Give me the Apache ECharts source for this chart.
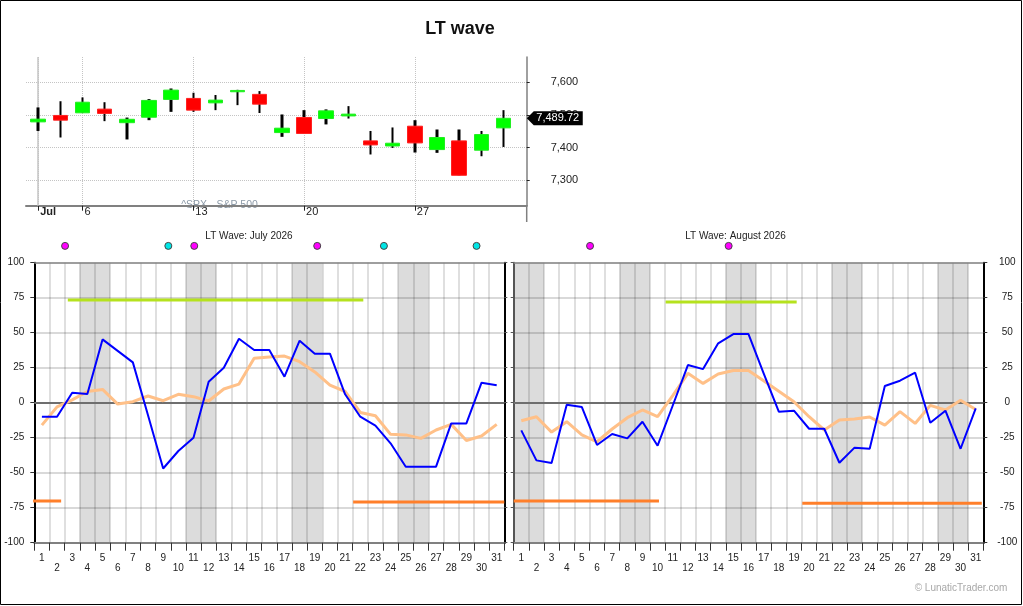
<!DOCTYPE html>
<html><head><meta charset="utf-8">
<script src="https://cdn.jsdelivr.net/npm/echarts@6/dist/echarts.min.js"></script>
<style>html,body{margin:0;padding:0;background:#fff}#c{width:1023px;height:606px}</style>
</head><body><div id="c"></div>
<script>
// ---------- top chart: ^SPX daily candles, July 2026 ----------
const tradingDays = ['1','2','6','7','8','9','10','13','14','15','16','17','20','21','22','23','24','27','28','29','30','31'];
const candleOpen  = [7478.8,7498.5,7506.5,7517.8,7476.3,7493,7547.5,7550.6,7537,7571,7563,7446,7492.3,7489,7497,7420.6,7405,7465.6,7394,7420.6,7392,7460.4];
const candleClose = [7487.1,7484,7539,7504.6,7486.7,7544.5,7576,7514.7,7545.4,7575,7533,7459.5,7443.3,7512.6,7502.5,7408.3,7413.5,7414.4,7431,7315.3,7440,7489.72];
const candleLow   = [7451,7431,7506,7481,7425,7484,7509.5,7509.5,7514.7,7530,7506,7433,7443,7471,7489,7379,7399,7385,7384,7315.3,7373.6,7402];
const candleHigh  = [7523,7542,7553.7,7539,7492,7548.5,7581,7568,7561,7577,7573,7501.5,7514.7,7517,7527,7451,7461.7,7484,7455.5,7455.5,7451,7514.7];
const lastClose = 7489.72;
const dateLabelIdx = [0,2,7,12,17];
const priceTicks = [7300,7400,7500,7600];

// ---------- LT wave panels ----------
const dayLabels = ['1','2','3','4','5','6','7','8','9','10','11','12','13','14','15','16','17','18','19','20','21','22','23','24','25','26','27','28','29','30','31'];
const julyBlue   = [-10,-10,7.1,6.2,45.2,37,28.8,-9,-47,-34.5,-25,15,25,45.7,37.6,37.6,18.6,44.3,35,35,6,-10,-16.4,-29,-45.7,-45.7,-45.7,-14.8,-14.8,14.3,12.4];
const julyOrange = [-16,-3,2,8,9.5,-1,0.7,4.8,1.4,6,4.3,1.2,9.8,13.3,31.7,32.6,33.3,29.3,22,12.6,8,-7,-9.3,-22.6,-23,-25.5,-19.5,-15.5,-27,-23.8,-15.5];
const augBlue    = [-19.8,-41.2,-43.1,-1.4,-3.1,-30.2,-22.4,-25.5,-13.6,-30.7,-2,26.9,24,42.4,49,49,21,-6.4,-5.7,-18.6,-18.6,-42.9,-32.1,-32.9,11.9,15.7,21.4,-14.3,-5.7,-32.9,-4];
const augOrange  = [-12.9,-10,-21,-13.6,-23,-27.9,-18.8,-10.7,-5.2,-10,5,21,13.8,20.5,23,23,15.6,8.2,0.7,-10,-19.5,-12.4,-11.7,-10.2,-16,-6.4,-14.8,-1.9,-5.2,1.7,-4.8];
const julyWeekends = [4,11,18,25];
const augWeekends  = [1,8,15,22,29];
// level segments: [fromDay, toDay, level]
const julyHighLines = [[2.71,22.2,73.3]];
const julyLowLines  = [[0.42,2.27,-70.2],[21.53,31.5,-70.9]];
const augHighLines  = [[10.53,19.18,71.9]];
const augLowLines   = [[0.5,10.09,-70.2],[19.55,31.4,-71.9]];
// marker dots (fractional day positions)
const julyMagenta = [2.53,11.05,19.16];
const julyCyan    = [9.34,23.56,29.67];
const augMagenta  = [5.54,14.69];
const augCyan     = [];

const FONT = '"Liberation Sans", Arial, sans-serif';
const VGRID = 'rgba(0,0,0,0.17)';
const HGRID = 'rgba(0,0,0,0.15)';
const DOT_ROW = 112;

const chart = echarts.init(document.getElementById('c'));

function stagger(v, i) { return (i % 2 ? '\n' : '') + v; }

function catAxis(g) {
  return { gridIndex:g, type:'category', data:dayLabels, boundaryGap:true, position:'bottom',
    axisLine:{show:true, onZero:false, lineStyle:{color:'#808080', width:2}},
    axisTick:{show:true, length:8, lineStyle:{color:'#333'}},
    axisLabel:{interval:0, formatter:stagger, fontSize:10, color:'#222', lineHeight:10, margin:11},
    splitLine:{show:true, interval:0, lineStyle:{color:VGRID, width:1.5}} };
}
function hiddenX(g) { return { gridIndex:g, type:'value', min:0.5, max:31.5, show:false, axisLine:{onZero:false} }; }
function waveY(g, pos, opts) {
  return Object.assign({ gridIndex:g, type:'value', position:pos, min:-100, max:100, interval:25,
    axisLine:{show:true, onZero:false, lineStyle:{color:'#000', width:2}},
    axisTick:{show:true, length:4, lineStyle:{color:'#333'}},
    axisLabel:{show:false},
    splitLine:{show:false} }, opts);
}
function shadeItem(params, api) {
  const s = api.value(0);
  const p1 = api.coord([s - 0.5, 100]);
  const p2 = api.coord([s + 1.5, -100]);
  return { type:'rect', shape:{x:p1[0], y:p1[1], width:p2[0]-p1[0], height:p2[1]-p1[1]}, style:{fill:'#dcdcdc'} };
}
function segSeries(seg, color, xi, yi) {
  return { type:'line', xAxisIndex:xi, yAxisIndex:yi, data:[[seg[0],seg[2]],[seg[1],seg[2]]],
    showSymbol:false, symbol:'none', silent:true, lineStyle:{color:color, width:3, cap:'butt'}, z:2 };
}
function dotSeries(xs, color, xi, yi) {
  return { type:'scatter', xAxisIndex:xi, yAxisIndex:yi, clip:false, silent:true,
    data: xs.map(x => [x, DOT_ROW]), symbolSize:7,
    itemStyle:{color:color, borderColor:'#444', borderWidth:1, opacity:1}, z:3 };
}
function panelSeries(ci, hx, yi, weekends, orange, blue, highs, lows, mag, cyan) {
  const s = [];
  s.push({ type:'custom', xAxisIndex:hx, yAxisIndex:yi, renderItem:shadeItem, silent:true, z:-1,
    data: weekends.map(d => [d, 0]), encode:{x:0, y:1} });
  highs.forEach(seg => s.push(segSeries(seg, '#b5e21e', hx, yi)));
  lows.forEach(seg => s.push(segSeries(seg, '#ff7f2a', hx, yi)));
  s.push({ type:'line', xAxisIndex:ci, yAxisIndex:yi, data:orange, showSymbol:false, symbol:'none',
    lineStyle:{color:'#ffc088', width:3}, silent:true, z:2,
    markLine:{ silent:true, symbol:'none', z:1, label:{show:false}, animation:false,
      data:[ {yAxis:0, lineStyle:{color:'#6e6e6e', width:2, type:'solid'}},
             {yAxis:100, lineStyle:{color:'#8a8a8a', width:1.5, type:'solid'}} ] } });
  s.push({ type:'line', xAxisIndex:ci, yAxisIndex:yi, data:blue, showSymbol:false, symbol:'none',
    lineStyle:{color:'#0000ff', width:2}, silent:true, z:3 });
  s.push(dotSeries(mag, '#ff00ff', hx, yi));
  s.push(dotSeries(cyan, '#00e6e6', hx, yi));
  return s;
}

const option = {
  animation:false,
  textStyle:{fontFamily:FONT},
  grid:[
    {left:26, top:57, width:500.7, height:148.7},
    {left:34.3, top:262.7, width:470, height:280},
    {left:513.7, top:262.7, width:469.6, height:280}
  ],
  xAxis:[
    { gridIndex:0, type:'value', min:-0.55, max:22.05, position:'bottom',
      axisLine:{show:true, onZero:false, lineStyle:{color:'#808080', width:2}},
      axisTick:{show:true, customValues:dateLabelIdx, length:5, lineStyle:{color:'#222'}},
      axisLabel:{customValues:dateLabelIdx, align:'left', margin:1, padding:[0,0,0,2],
        formatter: v => v === 0 ? '{b|Jul}' : '{n|' + tradingDays[v] + '}',
        rich:{ b:{fontWeight:'bold', fontSize:11, color:'#222', fontFamily:FONT}, n:{fontSize:11, color:'#222', fontFamily:FONT} } },
      splitLine:{show:true, lineStyle:{color:'#c4c4c4', type:'dotted', width:1}} },
    catAxis(1), hiddenX(1), catAxis(2), hiddenX(2)
  ],
  yAxis:[
    { gridIndex:0, type:'value', position:'right', min:7222.2, max:7677.4,
      axisLine:{show:true, onZero:false, lineStyle:{color:'#808080', width:1.5}},
      axisTick:{show:true, customValues:priceTicks, length:3, lineStyle:{color:'#222'}},
      axisLabel:{customValues:priceTicks, formatter: v => v.toLocaleString('en-US'), margin:24, fontSize:11, color:'#222'},
      splitLine:{show:true, lineStyle:{color:'#c4c4c4', type:'dotted', width:1}} },
    waveY(1, 'left', { axisLabel:{show:true, fontSize:10, color:'#222', margin:10},
      splitLine:{show:true, lineStyle:{color:HGRID, width:2}} }),
    waveY(1, 'right', { axisTick:{show:true, length:3, lineStyle:{color:'#555'}} }),
    waveY(2, 'left', { axisLine:{show:true, onZero:false, lineStyle:{color:'#555', width:2}},
      axisTick:{show:true, length:3, lineStyle:{color:'#555'}},
      splitLine:{show:true, lineStyle:{color:HGRID, width:2}} }),
    waveY(2, 'right', { axisLabel:{show:true, fontSize:10, color:'#222', margin:24, align:'center'} })
  ],
  series:[
    { type:'candlestick', xAxisIndex:0, yAxisIndex:0, barWidth:3, silent:true, z:3,
      data: tradingDays.map((d, i) => [i, candleLow[i], candleHigh[i], candleLow[i], candleHigh[i]]),
      itemStyle:{color:'#000', color0:'#000', borderColor:'#000', borderColor0:'#000', borderWidth:0},
      markLine:{ silent:true, symbol:'none', z:1, label:{show:false},
        data:[{xAxis:0}], lineStyle:{color:'#c4c4c4', type:'solid', width:1.5} } },
    { type:'candlestick', xAxisIndex:0, yAxisIndex:0, barWidth:15, silent:true, z:4,
      data: tradingDays.map((d, i) => [i, candleOpen[i], candleClose[i],
        Math.min(candleOpen[i], candleClose[i]), Math.max(candleOpen[i], candleClose[i])]),
      itemStyle:{color:'#00ff00', color0:'#ff0000', borderColor:'#22ee22', borderColor0:'#ff2222', borderWidth:1},
      markPoint:{ silent:true, z:10, animation:false,
        data:[{coord:[tradingDays.length - 1, lastClose]}],
        symbol:'path://M0,7L7,0L56,0L56,14L7,14Z', symbolSize:[56,14], symbolOffset:[51.3,0],
        itemStyle:{color:'#000'},
        label:{show:true, position:'inside', offset:[3,0], color:'#fff', fontSize:11, fontFamily:FONT,
          formatter: () => lastClose.toLocaleString('en-US', {minimumFractionDigits:2})} } }
  ]
    .concat(panelSeries(1, 2, 1, julyWeekends, julyOrange, julyBlue, julyHighLines, julyLowLines, julyMagenta, julyCyan))
    .concat(panelSeries(3, 4, 3, augWeekends, augOrange, augBlue, augHighLines, augLowLines, augMagenta, augCyan)),
  graphic:[
    { type:'text', x:460, y:29, z:10, style:{text:'LT wave', font:'bold 18px ' + FONT, fill:'#111', align:'center', verticalAlign:'middle'} },
    { type:'text', x:219.5, y:205.5, z:-1, style:{text:'^SPX - S&P 500', font:'10.5px ' + FONT, fill:'#8c9aa8', align:'center', verticalAlign:'middle'} },
    { type:'line', z:10, shape:{x1:526.7, y1:205, x2:526.7, y2:222}, style:{stroke:'#808080', lineWidth:1.5} },
    { type:'text', x:249, y:236, style:{text:'LT Wave: July 2026', font:'10px ' + FONT, fill:'#222', align:'center', verticalAlign:'middle'} },
    { type:'text', x:735.5, y:236, style:{text:'LT Wave: August 2026', font:'10px ' + FONT, fill:'#222', align:'center', verticalAlign:'middle'} },
    { type:'text', x:961, y:588, style:{text:'\u00a9 LunaticTrader.com', font:'10px ' + FONT, fill:'#a8a8a8', align:'center', verticalAlign:'middle'} },
    { type:'rect', z:20, shape:{x:0.5, y:0.5, width:1021, height:604}, style:{fill:'none', stroke:'#000', lineWidth:1} }
  ]
};
chart.setOption(option);
</script>
</body></html>
